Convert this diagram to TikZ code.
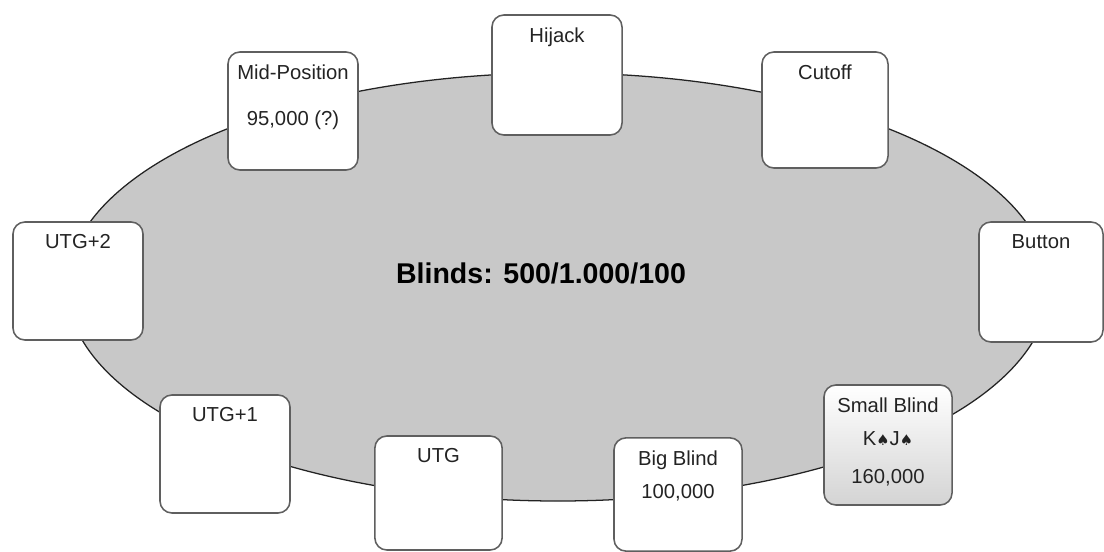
\documentclass[tikz,border=0pt]{standalone}
\usepackage{fontspec}
\setmainfont{Liberation Sans}
\newfontfamily\suitfont{DejaVu Sans}
\usetikzlibrary{positioning}
\definecolor{felt}{RGB}{200,200,200}
\definecolor{rim}{RGB}{95,95,95}
\definecolor{ink}{RGB}{35,35,35}
\tikzset{
  seat/.style={draw=rim, line width=1.1pt, fill=white, rounded corners=8.5pt,
    inner sep=0pt, minimum width=3.2cm, minimum height=2.95cm},
  seattext/.style={inner sep=0pt, text=ink, font=\fontsize{14.4}{17}\selectfont},
}

\begin{document}
\begin{tikzpicture}[x=0.025cm, y=-0.025cm]
        \useasboundingbox (0,0) rectangle (1104,552);
        % the table
        \draw[draw=ink, line width=0.9pt, fill=felt] (558,287) ellipse [x radius=491, y radius=214];
        \node[inner sep=0pt, text=black, font=\bfseries\fontsize{20.3}{24}\selectfont] (blinds) at (541,273) {Blinds: 500/1.000/100};

        % seats, clockwise from the left
        \node[seat, minimum width=3.25cm] (utgtwo) at (78,281) {};
        \node[seat, minimum width=3.25cm] (midpos) at (293,111) {};
        \node[seat, minimum width=3.25cm, minimum height=3cm] (hijack) at (557,75) {};
        \node[seat, minimum width=3.15cm, minimum height=2.9cm] (cutoff) at (825,110) {};
        \node[seat, minimum width=3.1cm, minimum height=3cm] (button) at (1041,282) {};
        \node[seat, minimum height=3cm, fill=none, top color=white, bottom color=black!17] (smallbl) at (888,445) {};
        \node[seat, minimum height=2.83cm] (bigbl) at (678,494.5) {};
        \node[seat, minimum width=3.18cm, minimum height=2.85cm] (utg) at (438.5,493) {};
        \node[seat, minimum width=3.25cm] (utgone) at (225,454) {};

        % names and stacks
        \node[seattext, below=9.2pt of utgtwo.north] (utgtwot) {UTG+2};
        \node[seattext, below=9.2pt of midpos.north] (midpost) {Mid-Position};
        \node[seattext, below=42pt of midpos.north] (midposs) {95,000 (?)};
        \node[seattext, below=9.2pt of hijack.north] (hijackt) {Hijack};
        \node[seattext, below=9.2pt of cutoff.north] (cutofft) {Cutoff};
        \node[seattext, below=9.2pt of button.north] (buttont) {Button};
        \node[seattext, below=9.2pt of smallbl.north] (smallblt) {Small Blind};
        \node[seattext, below=33.6pt of smallbl.north] (smallblc) {K{\suitfont\fontsize{10.5}{12}\selectfont ♠}J{\suitfont\fontsize{10.5}{12}\selectfont ♠}};
        \node[seattext, below=60.5pt of smallbl.north] (smallbls) {160,000};
        \node[seattext, below=9.2pt of bigbl.north] (bigblt) {Big Blind};
        \node[seattext, below=33.6pt of bigbl.north] (bigbls) {100,000};
        \node[seattext, below=9.2pt of utg.north] (utgt) {UTG};
        \node[seattext, below=9.2pt of utgone.north] (utgonet) {UTG+1};
\end{tikzpicture}
\end{document}
